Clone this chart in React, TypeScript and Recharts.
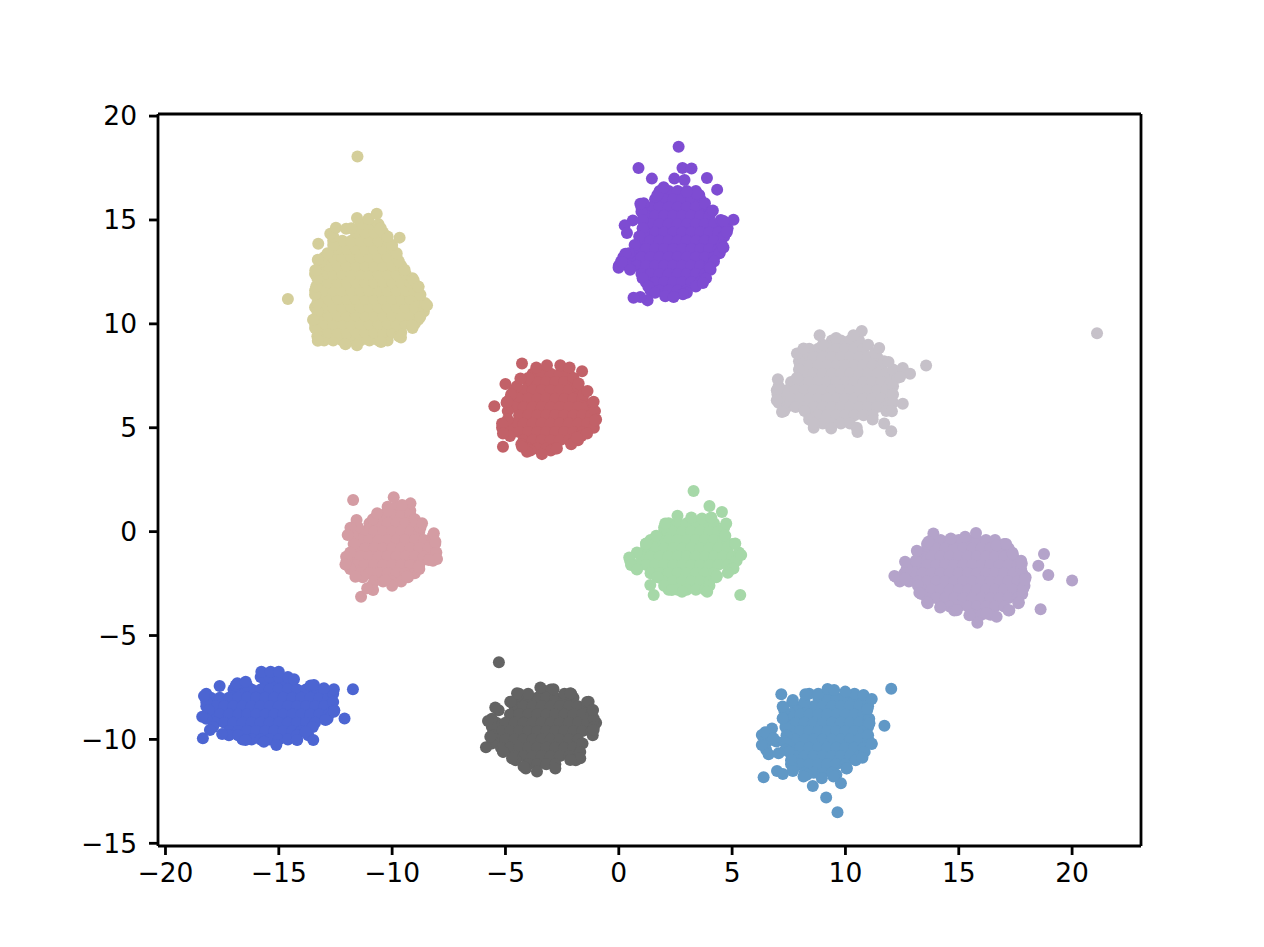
import { ScatterChart, Scatter, XAxis, YAxis, ReferenceLine } from "recharts"

// each blob: rows of [y, xs] for the solid middle and the left/right edge, pairs for the rim and the strays
type Row = [number, number[]]

const tanRows: Row[] = [
  [9.2, [-13, -12.6, -12.2, -11.8, -11.4, -11, -10.6, -10.2]],
  [9.6, [-13.2, -12.8, -12.4, -12, -11.6, -11.2, -10.8, -10.4, -10, -9.6]],
  [10, [-13.4, -13, -12.6, -12.2, -11.8, -11.4, -11, -10.6, -10.2, -9.8, -9.4, -9]],
  [10.4, [-13.2, -12.8, -12.4, -12, -11.6, -11.2, -10.8, -10.4, -10, -9.6, -9.2, -8.8]],
  [10.8, [-13.4, -13, -12.6, -12.2, -11.8, -11.4, -11, -10.6, -10.2, -9.8, -9.4, -9, -8.6]],
  [11.2, [-13.2, -12.8, -12.4, -12, -11.6, -11.2, -10.8, -10.4, -10, -9.6, -9.2, -8.8]],
  [11.6, [-13.4, -13, -12.6, -12.2, -11.8, -11.4, -11, -10.6, -10.2, -9.8, -9.4, -9]],
  [12, [-13.2, -12.8, -12.4, -12, -11.6, -11.2, -10.8, -10.4, -10, -9.6, -9.2]],
  [12.4, [-13.4, -13, -12.6, -12.2, -11.8, -11.4, -11, -10.6, -10.2, -9.8, -9.4]],
  [12.8, [-13.2, -12.8, -12.4, -12, -11.6, -11.2, -10.8, -10.4, -10, -9.6]],
  [13.2, [-13, -12.6, -12.2, -11.8, -11.4, -11, -10.6, -10.2, -9.8]],
  [13.6, [-12.4, -12, -11.6, -11.2, -10.8, -10.4, -10]],
  [14, [-12.6, -12.2, -11.8, -11.4, -11, -10.6, -10.2]],
  [14.4, [-11.6, -11.2, -10.8, -10.4]],
  [14.8, [-11.4, -11, -10.6]],
]
const tanEdge: Row[] = [
  [9.4, [-13.3, -9.7]], [9.8, [-13.4, -9.1]], [10.2, [-13.45, -8.85]], [10.6, [-13.3, -8.6]], [11, [-13.3, -8.55]],
  [11.4, [-13.4, -8.75]], [11.8, [-13.35, -8.85]], [12.2, [-13.3, -9.1]], [12.6, [-13.3, -9.45]], [13, [-13.15, -9.7]],
  [13.4, [-12.85, -9.8]], [13.8, [-12.6, -10]], [14.2, [-12.6, -10.2]], [14.6, [-11.8, -10.5]],
]
const tanRim = [
  [-11.53, 18.05], [-14.6, 11.2], [-13.26, 13.86], [-12.73, 14.34], [-12.48, 14.63], [-12.03, 14.58], [-11.55, 15.1],
  [-11.04, 15.06], [-10.68, 15.3], [-10.52, 14.58], [-9.67, 14.15], [-13.28, 13.09], [-13.39, 12.58], [-9.05, 12.1],
  [-8.83, 11.78], [-8.46, 10.9], [-8.76, 10.33], [-9.12, 9.93], [-9.61, 9.34], [-10.49, 9.13], [-11.55, 8.97],
  [-12.06, 9.02], [-13.28, 9.19], [-13.49, 10.2],
]

const purpleRows: Row[] = [
  [16.4, [1.8, 2.2, 2.6, 3, 3.4]],
  [16, [1.6, 2, 2.4, 2.8, 3.2, 3.6]],
  [15.6, [1, 1.4, 1.8, 2.2, 2.6, 3, 3.4, 3.8]],
  [15.2, [1.2, 1.6, 2, 2.4, 2.8, 3.2, 3.6, 4]],
  [14.8, [1.4, 1.8, 2.2, 2.6, 3, 3.4, 3.8, 4.2, 4.6]],
  [14.4, [1.2, 1.6, 2, 2.4, 2.8, 3.2, 3.6, 4, 4.4]],
  [14, [1, 1.4, 1.8, 2.2, 2.6, 3, 3.4, 3.8, 4.2]],
  [13.6, [0.8, 1.2, 1.6, 2, 2.4, 2.8, 3.2, 3.6, 4, 4.4]],
  [13.2, [0.2, 0.6, 1, 1.4, 1.8, 2.2, 2.6, 3, 3.4, 3.8, 4.2]],
  [12.8, [0, 0.4, 0.8, 1.2, 1.6, 2, 2.4, 2.8, 3.2, 3.6, 4]],
  [12.4, [1, 1.4, 1.8, 2.2, 2.6, 3, 3.4, 3.8]],
  [12, [1.2, 1.6, 2, 2.4, 2.8, 3.2, 3.6]],
  [11.6, [1.4, 1.8, 2.2, 2.6, 3]],
]
const purpleEdge: Row[] = [
  [16.2, [1.7, 3.55]], [15.8, [1.1, 3.8]], [15.4, [1, 4.1]], [15, [1.05, 4.5]], [14.6, [1.05, 4.8]], [14.2, [0.9, 4.65]],
  [13.8, [0.7, 4.55]], [13.4, [0.45, 4.45]], [13, [0.1, 4.2]], [12.6, [0.5, 4.05]], [12.2, [1.05, 3.85]], [11.8, [1.3, 3.4]],
  [11.5, [1.6, 3]],
]
const purpleRim = [
  [2.64, 18.52], [0.87, 17.5], [1.46, 16.99], [2.81, 17.5], [3.21, 17.48], [3.89, 17.02], [4.34, 16.46], [2.45, 16.99],
  [2.9, 16.92], [1.98, 16.58], [0.95, 15.78], [0.62, 14.98], [0.26, 14.74], [0.36, 14.37], [5.06, 15.01], [4.62, 14.95],
  [4.77, 14.42], [4.62, 13.67], [4.15, 15.46], [3.45, 16.26], [3, 16.34], [-0.01, 12.7], [0.29, 13.38], [0.14, 12.98],
  [4.03, 12.7], [3.71, 11.97], [2.83, 11.42], [2.05, 11.33], [1.27, 11.13], [0.95, 11.29], [0.65, 11.26], [2.42, 11.29],
]

const greyRows: Row[] = [
  [9.2, [9.4, 9.8, 10.2, 10.6]],
  [8.8, [8.4, 8.8, 9.2, 9.6, 10, 10.4, 10.8]],
  [8.4, [8.2, 8.6, 9, 9.4, 9.8, 10.2, 10.6, 11, 11.4]],
  [8, [8, 8.4, 8.8, 9.2, 9.6, 10, 10.4, 10.8, 11.2, 11.6]],
  [7.6, [8.2, 8.6, 9, 9.4, 9.8, 10.2, 10.6, 11, 11.4, 11.8, 12.2]],
  [7.2, [7.6, 8, 8.4, 8.8, 9.2, 9.6, 10, 10.4, 10.8, 11.2, 11.6, 12]],
  [6.8, [7, 7.4, 7.8, 8.2, 8.6, 9, 9.4, 9.8, 10.2, 10.6, 11, 11.4, 11.8]],
  [6.4, [7.2, 7.6, 8, 8.4, 8.8, 9.2, 9.6, 10, 10.4, 10.8, 11.2, 11.6, 12]],
  [6, [7.4, 7.8, 8.2, 8.6, 9, 9.4, 9.8, 10.2, 10.6, 11, 11.4, 11.8]],
  [5.6, [8.4, 8.8, 9.2, 9.6, 10, 10.4, 10.8, 11.2]],
  [5.2, [8.6, 9, 9.4, 9.8, 10.2]],
]
const greyEdge: Row[] = [
  [9, [9, 11]], [8.6, [8, 11.3]], [8.2, [7.95, 11.7]], [7.8, [7.95, 12.1]], [7.4, [7.85, 12.3]], [7, [7.05, 12.1]],
  [6.6, [7, 12.1]], [6.2, [7.05, 12.1]], [5.8, [7.3, 8.2, 11.8]], [5.4, [8.4, 11.2]], [5, [8.6, 10.5]],
]
const greyRim = [
  [8.86, 9.45], [9.59, 9.32], [10.72, 9.66], [10.35, 9.45], [11.49, 8.84], [11.9, 8.17], [12.53, 7.88], [12.85, 7.6],
  [13.56, 8], [12.41, 7.44], [7.02, 7.33], [6.97, 6.8], [6.97, 6.32], [7.2, 5.76], [12.53, 6.16], [12.05, 5.79],
  [11.71, 5.2], [12.02, 4.83], [10.53, 4.8], [9.37, 4.96], [8.59, 5.2], [7.86, 8.57], [8.15, 8.81], [21.1, 9.55],
]

const redRows: Row[] = [
  [7.6, [-3.8, -3.4, -3, -2.6, -2.2]],
  [7.2, [-4, -3.6, -3.2, -2.8, -2.4, -2]],
  [6.8, [-4.6, -4.2, -3.8, -3.4, -3, -2.6, -2.2, -1.8]],
  [6.4, [-4.8, -4.4, -4, -3.6, -3.2, -2.8, -2.4, -2, -1.6]],
  [6, [-4.6, -4.2, -3.8, -3.4, -3, -2.6, -2.2, -1.8, -1.4]],
  [5.6, [-4.4, -4, -3.6, -3.2, -2.8, -2.4, -2, -1.6, -1.2]],
  [5.2, [-5, -4.6, -4.2, -3.8, -3.4, -3, -2.6, -2.2, -1.8, -1.4]],
  [4.8, [-4.8, -4.4, -4, -3.6, -3.2, -2.8, -2.4, -2, -1.6]],
  [4.4, [-4.2, -3.8, -3.4, -3, -2.6, -2.2, -1.8]],
  [4, [-4, -3.6, -3.2, -2.8]],
]
const redEdge: Row[] = [
  [7.4, [-4, -2]], [7, [-4.5, -1.8]], [6.6, [-4.75, -1.55]], [6.2, [-4.95, -1.15]], [5.8, [-4.9, -1.05]], [5.4, [-4.9, -1]],
  [5, [-5.15, -1.1]], [4.6, [-4.8, -1.65]], [4.2, [-4.3, -2.1]], [3.9, [-3.9, -3]],
]
const redRim = [
  [-4.27, 8.09], [-5, 7.1], [-5.49, 6.04], [-5.11, 4.08], [-1.62, 7.72], [-3.64, 7.9], [-3.17, 8.01], [-2.58, 8.01],
  [-2.17, 7.9], [-1.77, 7.13], [-1.38, 6.77], [-1.11, 6.25], [-1.04, 5.36], [-1.4, 4.72], [-1.85, 4.53], [-2.73, 4],
  [-3.39, 3.73], [-4.05, 3.84], [-4.27, 4.08], [-5.15, 5.2], [-5.11, 4.72], [-4.93, 6.25], [-4.34, 7.37],
]

const pinkRows: Row[] = [
  [1.2, [-10.2, -9.8, -9.4]],
  [0.8, [-10.4, -10, -9.6, -9.2]],
  [0.4, [-11, -10.6, -10.2, -9.8, -9.4, -9]],
  [0, [-11.6, -11.2, -10.8, -10.4, -10, -9.6, -9.2, -8.8]],
  [-0.4, [-11.4, -11, -10.6, -10.2, -9.8, -9.4, -9, -8.6, -8.2]],
  [-0.8, [-11.6, -11.2, -10.8, -10.4, -10, -9.6, -9.2, -8.8, -8.4]],
  [-1.2, [-11.8, -11.4, -11, -10.6, -10.2, -9.8, -9.4, -9, -8.6, -8.2]],
  [-1.6, [-12, -11.6, -11.2, -10.8, -10.4, -10, -9.6, -9.2, -8.8]],
  [-2, [-11.4, -11, -10.6, -10.2, -9.8, -9.4, -9]],
  [-2.4, [-10.8, -10.4, -10, -9.6]],
]
const pinkEdge: Row[] = [
  [1, [-10.2, -9.2]], [0.6, [-10.85, -9]], [0.2, [-11.5, -8.75]], [-0.2, [-11.75, -8.2]], [-0.6, [-11.7, -8.1]],
  [-1, [-11.85, -8.05]], [-1.4, [-12, -8.2]], [-1.8, [-11.85, -8.8]], [-2.2, [-11.3, -9.3]], [-2.6, [-10.9, -10]],
]
const pinkRim = [
  [-11.72, 1.52], [-9.93, 1.65], [-9.19, 1.36], [-9.56, 1.28], [-11.57, 0.56], [-11.84, 0.19], [-11.96, -0.16],
  [-11.37, -3.13], [-10.84, -2.81], [-11.1, -2.73], [-8.16, -0.08], [-8.09, -0.49], [-8.02, -1.32], [-8.38, -1.37],
  [-8.83, -1.69], [-9.34, -2.17], [-10.3, -2.33], [-12.03, -1.21], [-12.06, -1.58], [-11.62, -2.17], [-10.66, 0.88],
  [-8.68, 0.4],
]

const greenRows: Row[] = [
  [0.4, [2.2, 2.6, 3, 3.4, 3.8, 4.2]],
  [0, [2, 2.4, 2.8, 3.2, 3.6, 4, 4.4]],
  [-0.4, [1.4, 1.8, 2.2, 2.6, 3, 3.4, 3.8, 4.2, 4.6]],
  [-0.8, [1.2, 1.6, 2, 2.4, 2.8, 3.2, 3.6, 4, 4.4, 4.8]],
  [-1.2, [1, 1.4, 1.8, 2.2, 2.6, 3, 3.4, 3.8, 4.2, 4.6, 5]],
  [-1.6, [0.8, 1.2, 1.6, 2, 2.4, 2.8, 3.2, 3.6, 4, 4.4, 4.8]],
  [-2, [1.4, 1.8, 2.2, 2.6, 3, 3.4, 3.8, 4.2]],
  [-2.4, [2, 2.4, 2.8, 3.2, 3.6, 4]],
  [-2.8, [2.2, 2.6, 3, 3.4, 3.8]],
]
const greenEdge: Row[] = [
  [0.2, [2, 4.65]], [-0.2, [1.65, 4.7]], [-0.6, [1.2, 5]], [-1, [0.8, 5.3]], [-1.4, [0.5, 5.2]], [-1.8, [0.8, 4.95]],
  [-2.2, [1.7, 4.3]], [-2.6, [2, 4]],
]
const greenRim = [
  [3.3, 1.96], [4, 1.23], [4.55, 0.95], [4.74, 0.39], [5.36, -3.05], [2.59, 0.76], [3.2, 0.68], [3.67, 0.63], [4.08, 0.68],
  [5.14, -0.57], [5.4, -1.13], [5.06, -1.77], [4.81, -1.98], [4.33, -2.14], [3.9, -2.89], [1.54, -3.05], [1.39, -2.57],
  [0.46, -1.24], [0.54, -1.61], [0.8, -1.82], [2.79, -2.89], [2.34, -2.81], [1.2, -0.57], [2.05, 0.39],
]

const lilacRows: Row[] = [
  [-0.4, [13.8, 14.2, 14.6, 15, 15.4, 15.8, 16.2, 16.6]],
  [-0.8, [13.6, 14, 14.4, 14.8, 15.2, 15.6, 16, 16.4, 16.8, 17.2]],
  [-1.2, [13.4, 13.8, 14.2, 14.6, 15, 15.4, 15.8, 16.2, 16.6, 17, 17.4]],
  [-1.6, [12.8, 13.2, 13.6, 14, 14.4, 14.8, 15.2, 15.6, 16, 16.4, 16.8, 17.2, 17.6]],
  [-2, [12.6, 13, 13.4, 13.8, 14.2, 14.6, 15, 15.4, 15.8, 16.2, 16.6, 17, 17.4, 17.8]],
  [-2.4, [12.4, 12.8, 13.2, 13.6, 14, 14.4, 14.8, 15.2, 15.6, 16, 16.4, 16.8, 17.2, 17.6]],
  [-2.8, [13.4, 13.8, 14.2, 14.6, 15, 15.4, 15.8, 16.2, 16.6, 17, 17.4, 17.8]],
  [-3.2, [13.6, 14, 14.4, 14.8, 15.2, 15.6, 16, 16.4, 16.8, 17.2, 17.6]],
  [-3.6, [14.2, 14.6, 15, 15.4, 15.8, 16.2, 16.6, 17]],
  [-4, [15.6, 16, 16.4]],
]
const lilacEdge: Row[] = [
  [-0.6, [13.6, 17]], [-1, [13.2, 17.35]], [-1.4, [13.1, 17.75]], [-1.8, [12.7, 17.75]], [-2.2, [12.25, 17.95]],
  [-2.6, [13.2, 17.9]], [-3, [13.35, 17.8]], [-3.4, [13.6, 17.65]], [-3.8, [14.8, 17.2]],
]
const lilacRim = [
  [12.16, -2.14], [12.63, -1.45], [12.63, -2.25], [13.15, -0.92], [13.88, -0.09], [14.65, -0.33], [15.28, -0.25],
  [15.76, -0.06], [16.67, -0.65], [17.09, -0.6], [17.38, -1.05], [17.78, -1.53], [18.76, -1.08], [18.51, -1.64],
  [18.95, -2.09], [18.61, -3.74], [15.82, -4.38], [16.67, -4.1], [17.23, -3.78], [17.63, -3.45], [17.85, -2.73],
  [17.92, -2.3], [13.26, -2.94], [13.63, -3.45], [14.18, -3.65], [14.91, -3.78], [15.47, -4.02], [16.23, -3.94],
  [13.66, -0.49], [20, -2.35],
]

const blueRows: Row[] = [
  [-7.2, [-15.6, -15.2, -14.8, -14.4]],
  [-7.6, [-17, -16.6, -16.2, -15.8, -15.4, -15, -14.6, -14.2, -13.8, -13.4]],
  [-8, [-18, -17.6, -17.2, -16.8, -16.4, -16, -15.6, -15.2, -14.8, -14.4, -14, -13.6, -13.2, -12.8]],
  [-8.4, [-18.2, -17.8, -17.4, -17, -16.6, -16.2, -15.8, -15.4, -15, -14.6, -14.2, -13.8, -13.4, -13]],
  [-8.8, [-18, -17.6, -17.2, -16.8, -16.4, -16, -15.6, -15.2, -14.8, -14.4, -14, -13.6, -13.2, -12.8]],
  [-9.2, [-17.8, -17.4, -17, -16.6, -16.2, -15.8, -15.4, -15, -14.6, -14.2, -13.8, -13.4]],
  [-9.6, [-17.2, -16.8, -16.4, -16, -15.6, -15.2, -14.8, -14.4, -14]],
  [-10, [-16.6, -16.2, -15.8, -15.4, -15, -14.6, -14.2]],
]
const blueEdge: Row[] = [
  [-7, [-15.8, -15.4, -15, -14.6]], [-7.4, [-16.9, -16.4, -13.6]], [-7.8, [-18.2, -12.6]], [-8.2, [-18.2, -12.6]],
  [-8.6, [-18.1, -12.55]], [-9, [-18.2, -12.85]], [-9.4, [-17.9, -13.5]], [-9.8, [-17.2, -16.8, -14.2, -13.7]],
]
const blueRim = [
  [-18.35, -9.95], [-18.38, -8.91], [-18.3, -7.91], [-17.61, -7.43], [-11.73, -7.59], [-12.1, -8.99], [-12.57, -7.59],
  [-13.48, -10.03], [-15.11, -10.27], [-15.77, -6.74], [-15.36, -6.74], [-15, -6.74], [-14.33, -7.11], [-13.45, -7.38],
  [-13.01, -7.54], [-18.04, -9.55], [-17.5, -9.74], [-16.47, -10.03], [-15.66, -10.11], [-14.19, -10.03], [-13.82, -9.63],
  [-12.57, -8.67], [-12.94, -9.07], [-16.83, -7.3], [-16.46, -7.22],
]

const darkRows: Row[] = [
  [-7.6, [-3.4, -3]],
  [-8, [-4.4, -4, -3.6, -3.2, -2.8, -2.4, -2]],
  [-8.4, [-4.6, -4.2, -3.8, -3.4, -3, -2.6, -2.2, -1.8, -1.4]],
  [-8.8, [-4.8, -4.4, -4, -3.6, -3.2, -2.8, -2.4, -2, -1.6, -1.2]],
  [-9.2, [-5.4, -5, -4.6, -4.2, -3.8, -3.4, -3, -2.6, -2.2, -1.8, -1.4, -1]],
  [-9.6, [-5.2, -4.8, -4.4, -4, -3.6, -3.2, -2.8, -2.4, -2, -1.6, -1.2]],
  [-10, [-5.4, -5, -4.6, -4.2, -3.8, -3.4, -3, -2.6, -2.2, -1.8]],
  [-10.4, [-5.2, -4.8, -4.4, -4, -3.6, -3.2, -2.8, -2.4, -2]],
  [-10.8, [-4.6, -4.2, -3.8, -3.4, -3, -2.6, -2.2, -1.8]],
  [-11.2, [-4, -3.6, -3.2, -2.8]],
]
const darkEdge: Row[] = [
  [-7.8, [-4.4, -4, -2.4, -2.1]], [-8.2, [-4.75, -1.4]], [-8.6, [-5.3, -1.15]], [-9, [-5.6, -1.1]], [-9.4, [-5.6, -1.1]],
  [-9.8, [-5.6, -1.15]], [-10.2, [-5.6, -1.6]], [-10.6, [-5.1, -1.7]], [-11, [-4.55, -1.9]], [-11.4, [-4.1, -2.8]],
]
const darkRim = [
  [-5.29, -6.29], [-5.45, -8.46], [-5.77, -9.11], [-5.86, -10.38], [-5.67, -9.87], [-1.33, -8.19], [-1.14, -8.59],
  [-1.11, -9.55], [-1.7, -10.91], [-2.14, -10.99], [-3.61, -11.55], [-4.2, -11.31], [-4.71, -10.91], [-5.11, -10.59],
  [-3.46, -7.5], [-4.49, -7.78], [-4.79, -8.19], [-2.88, -7.59], [-2.14, -7.78],
]

const steelRows: Row[] = [
  [-8, [8.8, 9.2, 9.6, 10, 10.4, 10.8]],
  [-8.4, [7.8, 8.2, 8.6, 9, 9.4, 9.8, 10.2, 10.6, 11]],
  [-8.8, [7.6, 8, 8.4, 8.8, 9.2, 9.6, 10, 10.4, 10.8]],
  [-9.2, [7.4, 7.8, 8.2, 8.6, 9, 9.4, 9.8, 10.2, 10.6, 11]],
  [-9.6, [7.6, 8, 8.4, 8.8, 9.2, 9.6, 10, 10.4, 10.8]],
  [-10, [7.8, 8.2, 8.6, 9, 9.4, 9.8, 10.2, 10.6, 11]],
  [-10.4, [7.6, 8, 8.4, 8.8, 9.2, 9.6, 10, 10.4, 10.8]],
  [-10.8, [7.8, 8.2, 8.6, 9, 9.4, 9.8, 10.2, 10.6]],
  [-11.2, [7.6, 8, 8.4, 8.8, 9.2, 9.6, 10]],
  [-11.6, [8.2, 8.6, 9, 9.4]],
]
const steelEdge: Row[] = [
  [-7.8, [8.4, 8.8, 10.4]], [-8.2, [7.65, 8.2, 11]], [-8.6, [7.3, 10.95]], [-9, [7.25, 11.05]], [-9.4, [7.35, 11]],
  [-9.8, [6.55, 7.4, 11]], [-10.1, [6.55, 6.95, 7.3]], [-10.2, [7.4, 11.15]], [-10.5, [6.5, 7.35]], [-10.6, [7.5, 10.85]],
  [-11, [7.6, 10.45]], [-11.4, [7.7, 10.05]], [-11.7, [8.3, 9.6]],
]
const steelRim = [
  [12.02, -7.56], [7.17, -7.83], [11.72, -9.34], [6.39, -11.82], [9.15, -12.8], [9.65, -13.51], [8.56, -12.24],
  [9.8, -12.11], [7.68, -8.1], [8.23, -7.83], [9.21, -7.57], [9.5, -7.62], [9.99, -7.7], [10.8, -7.86], [11.16, -8.05],
  [10.97, -8.54], [11.06, -9.22], [11.16, -10.22], [10.75, -10.88], [10.06, -11.39], [7.23, -8.42], [7.23, -8.98],
  [6.76, -9.47], [6.31, -9.79], [6.31, -10.27], [6.61, -10.72], [7.05, -10.67], [6.98, -11.52], [7.24, -11.66],
  [7.68, -11.52], [6.46, -9.66], [6.83, -9.95], [8.15, -11.79], [8.96, -11.87], [9.47, -11.79],
]

const xTicks = [-20, -15, -10, -5, 0, 5, 10, 15, 20]
const yTicks = [-15, -10, -5, 0, 5, 10, 15, 20]

const toPoints = (rows: Row[], edge: Row[], rim: number[][]) => [
  ...[...rows, ...edge].flatMap(([y, xs]) => xs.map((x) => ({ x, y }))),
  ...rim.map(([x, y]) => ({ x, y })),
]

const clusters = [
  { name: "tan", color: "#D4CE9A", data: toPoints(tanRows, tanEdge, tanRim) },
  { name: "purple", color: "#7E4CD2", data: toPoints(purpleRows, purpleEdge, purpleRim) },
  { name: "grey", color: "#C6C1C9", data: toPoints(greyRows, greyEdge, greyRim) },
  { name: "red", color: "#C26168", data: toPoints(redRows, redEdge, redRim) },
  { name: "pink", color: "#D49CA3", data: toPoints(pinkRows, pinkEdge, pinkRim) },
  { name: "green", color: "#A6D8A8", data: toPoints(greenRows, greenEdge, greenRim) },
  { name: "lilac", color: "#B4A3CA", data: toPoints(lilacRows, lilacEdge, lilacRim) },
  { name: "blue", color: "#4C65D2", data: toPoints(blueRows, blueEdge, blueRim) },
  { name: "dark", color: "#636363", data: toPoints(darkRows, darkEdge, darkRim) },
  { name: "steel", color: "#6098C6", data: toPoints(steelRows, steelEdge, steelRim) },
]

const xDomain = [-20.33, 23.04]
const yDomain = [-15.13, 20.1]
const minus = (v: number) => String(v).replace("-", "\u2212")
const tickStyle = { fill: "#000", fontSize: 26.5, fontFamily: "DejaVu Sans" }
const spine = { stroke: "#000", strokeWidth: 2.8 }

const Dot = (props: any) => <circle cx={props.cx} cy={props.cy} r={6} fill={props.fill} />

export default function App() {
  return (
    <div style={{ position: "absolute", left: 0, top: 0, width: 1264, height: 947 }}>
      <ScatterChart width={1264} height={947} margin={{ top: 114, right: 123, bottom: 61, left: 98 }}>
        <XAxis
          dataKey="x"
          type="number"
          domain={xDomain}
          ticks={xTicks}
          allowDataOverflow
          height={40}
          axisLine={spine}
          tickLine={spine}
          tickSize={9}
          tickMargin={8}
          tick={tickStyle}
          tickFormatter={minus}
          interval={0}
        />
        <YAxis
          dataKey="y"
          type="number"
          domain={yDomain}
          ticks={yTicks}
          allowDataOverflow
          width={60}
          axisLine={spine}
          tickLine={spine}
          tickSize={9}
          tickMargin={12}
          tick={tickStyle}
          tickFormatter={minus}
          interval={0}
        />
        <ReferenceLine y={yDomain[1]} stroke="#000" strokeWidth={2.8} />
        <ReferenceLine x={xDomain[1]} stroke="#000" strokeWidth={2.8} />
        {clusters.map((c) => (
          <Scatter key={c.name} name={c.name} data={c.data} fill={c.color} shape={Dot} isAnimationActive={false} />
        ))}
      </ScatterChart>
    </div>
  )
}
